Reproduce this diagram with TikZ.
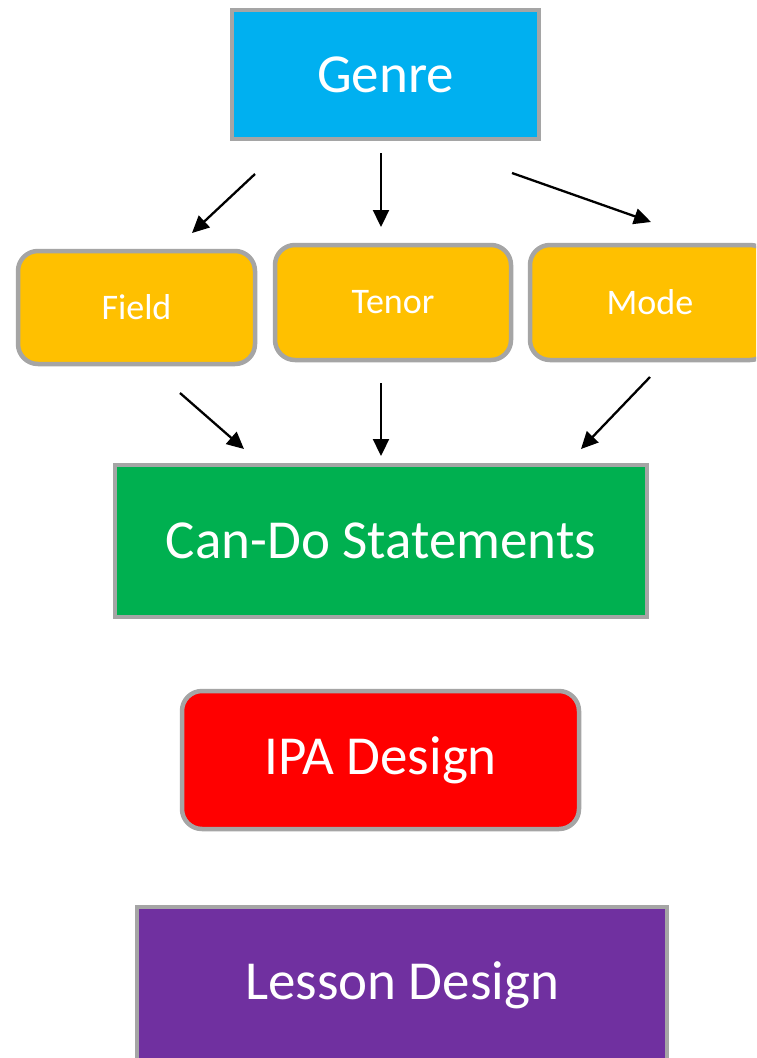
\documentclass[tikz,border=0pt]{standalone}
\usepackage{fontspec}
\setmainfont{Carlito}
\usetikzlibrary{arrows.meta}
\definecolor{genreblue}{HTML}{00B0F0}
\definecolor{amber}{HTML}{FFC000}
\definecolor{cdgreen}{HTML}{00B050}
\definecolor{ipared}{HTML}{FF0000}
\definecolor{lessonpurple}{HTML}{7030A0}
\definecolor{edgegray}{HTML}{A5A5A5}
\tikzset{
  box/.style={draw=edgegray, line width=4.5pt, text=white, inner sep=0pt,
    font=\fontsize{55}{60}\selectfont},
  smallbox/.style={box, rounded corners=20pt, fill=amber,
    font=\fontsize{36}{40}\selectfont},
  flow/.style={line width=2.3pt, -{Triangle[length=17pt,width=16pt]}}
}
\begin{document}
\begin{tikzpicture}[x=1pt,y=-1pt]
\useasboundingbox (0,0) rectangle (756,1058);
\clip (0,0) rectangle (756,1058);
\fill[white] (0,0) rectangle (756,1058);

% main boxes
\node[box, fill=genreblue, minimum width=307pt, minimum height=129pt] (genre) at (385.5,74.5) {Genre};
\node[smallbox, minimum width=237pt, minimum height=113pt] (field) at (136.5,307.5) {Field};
\node[smallbox, minimum width=236pt, minimum height=115pt] (tenor) at (393,302.5) {Tenor};
\node[smallbox, minimum width=240pt, minimum height=115pt] (mode) at (650,302.5) {Mode};
\node[box, fill=cdgreen, minimum width=532pt, minimum height=152pt] (cando) at (381,541) {Can-Do Statements};
\node[box, fill=ipared, rounded corners=20pt, minimum width=397pt, minimum height=138pt] (ipa) at (380.5,760) {IPA Design};
\node[box, fill=lessonpurple, minimum width=530pt, minimum height=156pt] (lesson) at (402,985) {Lesson Design};

% arrow end points
\coordinate (g1s) at (255,174);  \coordinate (g1e) at (192,233);
\coordinate (g2s) at (381,153);  \coordinate (g2e) at (381,227);
\coordinate (g3s) at (512,173);  \coordinate (g3e) at (651,222);
\coordinate (c1s) at (180,393);  \coordinate (c1e) at (244,449);
\coordinate (c2s) at (381,383);  \coordinate (c2e) at (381,456);
\coordinate (c3s) at (650,377);  \coordinate (c3e) at (581,449);

\draw[flow] (g1s) -- (g1e);
\draw[flow] (g2s) -- (g2e);
\draw[flow] (g3s) -- (g3e);
\draw[flow] (c1s) -- (c1e);
\draw[flow] (c2s) -- (c2e);
\draw[flow] (c3s) -- (c3e);
\end{tikzpicture}
\end{document}
